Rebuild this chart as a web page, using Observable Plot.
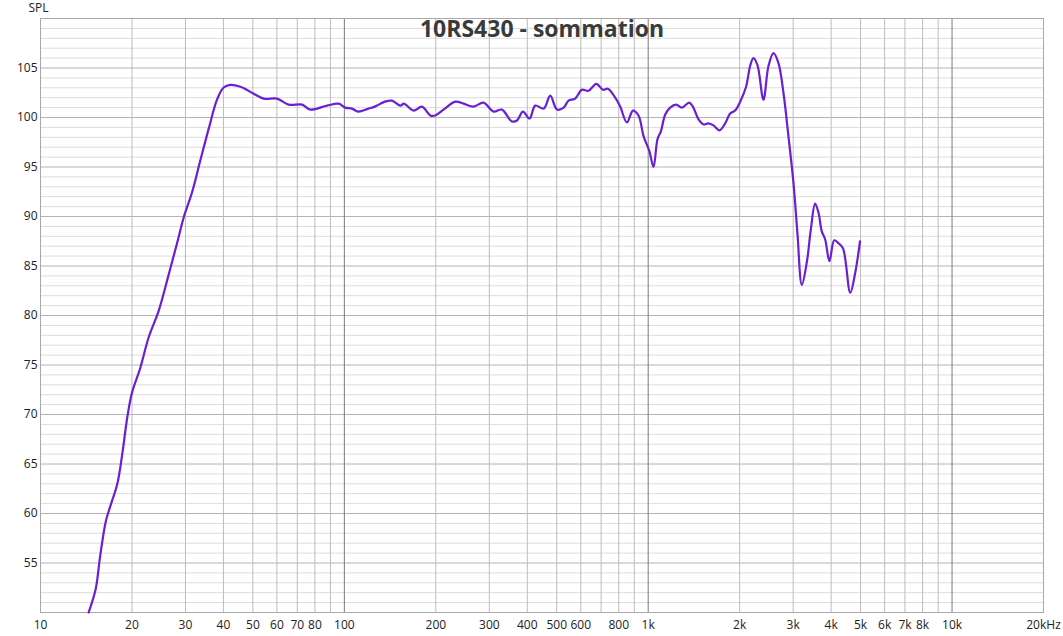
<!DOCTYPE html>
<html>
<head>
<meta charset="utf-8">
<script src="https://cdn.jsdelivr.net/npm/d3@7"></script>
<script src="https://cdn.jsdelivr.net/npm/@observablehq/plot@0.6"></script>
<style>
  html, body { margin: 0; padding: 0; background: #fff; }
  #chart svg { display: block; }
</style>
</head>
<body>
<div id="chart"></div>
<script>
const title = "10RS430 - sommation";
const yLabel = "SPL";

// Frequency response (Hz, dB SPL)
const freq = [14.4, 15.2, 15.7, 16.4, 17.0, 17.9, 18.6, 19.3, 20, 21.3, 22.7, 24.5, 26.4, 28.2, 29.6, 31.5, 33.6, 35.8, 38.1, 40, 42.2, 45.5, 50.3, 54.3, 60, 65.6, 72.6, 77.3, 87.7, 95.8,
  100.7, 106, 111, 120, 126, 136, 143.5, 153, 157, 169, 180, 192, 199, 212, 232, 247, 266, 287, 310, 330, 356, 370, 387, 407, 425, 453, 476, 501, 527, 547, 575, 605, 636, 675, 710, 737, 779, 809, 851, 891, 929, 966, 1009, 1041, 1073, 1101, 1138, 1181, 1236, 1291, 1364, 1403, 1465, 1521, 1579, 1640, 1717, 1792, 1861, 1932, 2008, 2100, 2165, 2220, 2289, 2395, 2488, 2584, 2684, 2787, 2895, 3007, 3099, 3204, 3328, 3430, 3543, 3634, 3727, 3822, 3950, 4096, 4230, 4375, 4625, 4800, 4980];
const spl = [50.0, 52.4, 55.6, 59.2, 60.8, 63.0, 66.1, 69.7, 72.2, 74.7, 77.8, 80.5, 84.1, 87.4, 89.9, 92.4, 95.7, 98.9, 101.8, 103.0, 103.3, 103.1, 102.4, 101.9, 101.9, 101.3, 101.3, 100.8, 101.2, 101.4,
  101.0, 100.9, 100.6, 100.9, 101.1, 101.6, 101.7, 101.2, 101.4, 100.7, 101.1, 100.2, 100.2, 100.8, 101.6, 101.4, 101.1, 101.5, 100.6, 100.8, 99.6, 99.7, 100.6, 99.9, 101.2, 100.9, 102.2, 100.8, 101.0, 101.7, 101.9, 102.8, 102.7, 103.4, 102.8, 102.9, 102.0, 101.1, 99.5, 100.7, 100.2, 98.1, 96.6, 95.0, 97.8, 98.6, 100.3, 101.0, 101.3, 101.0, 101.5, 101.1, 99.8, 99.3, 99.4, 99.2, 98.7, 99.4, 100.4, 100.7, 101.6, 103.1, 105.2, 106.0, 105.3, 101.8, 105.2, 106.5, 105.5, 102.5, 98.1, 93.4, 88.3, 83.1, 85.4, 88.7, 91.3, 90.4, 88.5, 87.7, 85.5, 87.6, 87.3, 86.8, 82.3, 84.3, 87.5];

// Axis ticks
const xTickValues = [10, 20, 30, 40, 50, 60, 70, 80, 100, 200, 300, 400, 500, 600, 800, 1000, 2000, 3000, 4000, 5000, 6000, 7000, 8000, 10000, 20000];
const xTickLabels = ["10", "20", "30", "40", "50", "60", "70", "80", "100", "200", "300", "400", "500", "600", "800", "1k", "2k", "3k", "4k", "5k", "6k", "7k", "8k", "10k", "20kHz"];
const yTickValues = [55, 60, 65, 70, 75, 80, 85, 90, 95, 100, 105];

// Grid lines
const xGridMinor = [20, 30, 40, 50, 60, 70, 80, 90, 200, 300, 400, 500, 600, 700, 800, 900, 2000, 3000, 4000, 5000, 6000, 7000, 8000, 9000];
const xGridDecade = [100, 1000, 10000];
const yGridMinor = d3.range(51, 110).filter(v => v % 5 !== 0);
const yGridMajor = [55, 60, 65, 70, 75, 80, 85, 90, 95, 100, 105];

const data = freq.map((f, i) => ({f, s: spl[i]}));
const xTicks = xTickValues.map((v, i) => ({v, label: xTickLabels[i]}));

const chart = Plot.plot({
  width: 1063,
  height: 636,
  marginLeft: 40,
  marginRight: 20,
  marginTop: 18,
  marginBottom: 24,
  style: {fontFamily: "'Open Sans', 'Noto Sans', sans-serif", fontSize: "12px", color: "#222", background: "#fff"},
  x: {type: "log", domain: [10, 20000], axis: null},
  y: {domain: [50, 110], axis: null},
  marks: [
    Plot.ruleY(yGridMinor, {stroke: "#dcdcdc", strokeWidth: 1}),
    Plot.ruleY(yGridMajor, {stroke: "#b4b4b4", strokeWidth: 1}),
    Plot.ruleX(xGridMinor, {stroke: "#bcbcbc", strokeWidth: 1}),
    Plot.ruleX(xGridDecade, {stroke: "#7a7a7a", strokeWidth: 1}),
    Plot.frame({stroke: "#a8a8a8"}),
    Plot.text(xTicks, {x: "v", frameAnchor: "bottom", lineAnchor: "middle", dy: 13, text: "label", fontSize: 12, fill: "#222"}),
    Plot.text(yTickValues, {y: d => d, frameAnchor: "left", textAnchor: "end", dx: -3, text: d => String(d), fontSize: 12, fill: "#222"}),
    Plot.text([title], {frameAnchor: "top", lineAnchor: "middle", dy: 11, text: d => d, fontSize: 23, fontWeight: "bold", fill: "#3a3a3a"}),
    Plot.text([yLabel], {frameAnchor: "top-left", lineAnchor: "middle", dx: -12, dy: -10, text: d => d, fontSize: 12, fill: "#222"}),
    Plot.line(data, {x: "f", y: "s", stroke: "#6a1fd2", strokeWidth: 2.2, curve: "catmull-rom"})
  ]
});
document.getElementById("chart").appendChild(chart);
</script>
</body>
</html>
